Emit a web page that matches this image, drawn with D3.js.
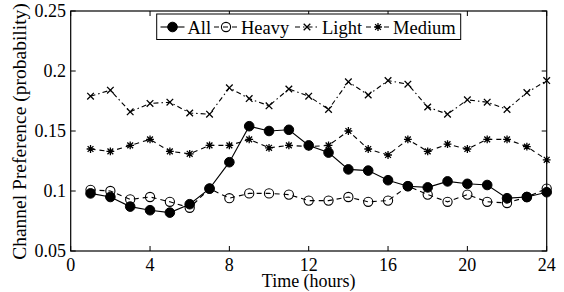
<!DOCTYPE html>
<html>
<head>
<script src="https://d3js.org/d3.v7.min.js"></script>
<style>
  body { margin: 0; background: #fff; }
  text { font-family: "Liberation Serif", "Times New Roman", serif; fill: #000; }
</style>
</head>
<body>
<svg id="chart" width="564" height="292"></svg>
<script>
// hours 1..24
var hours = d3.range(1, 25);
var xTicks = [0, 4, 8, 12, 16, 20, 24];
var yTicks = [0.05, 0.1, 0.15, 0.2, 0.25];
var yTickLabels = ["0.05", "0.1", "0.15", "0.2", "0.25"];

var allPref = [0.098, 0.095, 0.087, 0.084, 0.082, 0.089, 0.102, 0.124, 0.154, 0.150, 0.151, 0.138,
               0.132, 0.118, 0.117, 0.109, 0.104, 0.103, 0.108, 0.106, 0.105, 0.094, 0.095, 0.099];
var heavyPref = [0.101, 0.100, 0.093, 0.095, 0.091, 0.086, 0.102, 0.094, 0.098, 0.098, 0.097, 0.092,
                 0.092, 0.095, 0.091, 0.092, 0.104, 0.097, 0.091, 0.097, 0.091, 0.090, 0.095, 0.102];
var lightPref = [0.179, 0.184, 0.166, 0.173, 0.174, 0.165, 0.164, 0.186, 0.177, 0.171, 0.185, 0.179,
                 0.168, 0.191, 0.180, 0.192, 0.189, 0.170, 0.164, 0.176, 0.174, 0.168, 0.182, 0.192];
var mediumPref = [0.135, 0.133, 0.138, 0.143, 0.133, 0.131, 0.138, 0.138, 0.143, 0.136, 0.138, 0.137,
                  0.138, 0.150, 0.135, 0.130, 0.143, 0.133, 0.139, 0.135, 0.143, 0.143, 0.137, 0.126];

var seriesNames = ["All", "Heavy", "Light", "Medium"];
var seriesValues = [allPref, heavyPref, lightPref, mediumPref];

var svg = d3.select("#chart");
var plotLeft = 70.7, plotRight = 546.7, plotTop = 11, plotBottom = 251;

var x = d3.scaleLinear().domain([0, 24]).range([plotLeft, plotRight]);
var y = d3.scaleLinear().domain([0.05, 0.25]).range([plotBottom, plotTop]);

// line styles per series
var styles = {
  All:    { dash: null,        marker: "dot" },
  Heavy:  { dash: "5,4",       marker: "circle" },
  Light:  { dash: "5,3,1.5,3", marker: "x" },
  Medium: { dash: "5,4",       marker: "star" }
};

function drawMarker(g, kind, cx, cy) {
  if (kind === "dot") {
    g.append("circle").attr("cx", cx).attr("cy", cy).attr("r", 4.8)
      .attr("fill", "#000").attr("stroke", "#000");
  } else if (kind === "circle") {
    g.append("circle").attr("cx", cx).attr("cy", cy).attr("r", 4.6)
      .attr("fill", "none").attr("stroke", "#000").attr("stroke-width", 1.1);
  } else if (kind === "x") {
    var s = 3.3;
    g.append("path")
      .attr("d", "M" + (cx - s) + "," + (cy - s) + "L" + (cx + s) + "," + (cy + s) +
                 "M" + (cx - s) + "," + (cy + s) + "L" + (cx + s) + "," + (cy - s))
      .attr("stroke", "#000").attr("stroke-width", 1.3);
  } else if (kind === "star") {
    var r = 3.9, d = 2.9;
    g.append("path")
      .attr("d", "M" + (cx - r) + "," + cy + "L" + (cx + r) + "," + cy +
                 "M" + cx + "," + (cy - r) + "L" + cx + "," + (cy + r) +
                 "M" + (cx - d) + "," + (cy - d) + "L" + (cx + d) + "," + (cy + d) +
                 "M" + (cx - d) + "," + (cy + d) + "L" + (cx + d) + "," + (cy - d))
      .attr("stroke", "#000").attr("stroke-width", 1.3);
  }
}

// axes box
svg.append("rect").attr("x", plotLeft).attr("y", plotTop)
  .attr("width", plotRight - plotLeft).attr("height", plotBottom - plotTop)
  .attr("fill", "none").attr("stroke", "#000").attr("stroke-width", 1.2);

var tickLen = 5;
var axes = svg.append("g").attr("stroke", "#000").attr("stroke-width", 1);
xTicks.forEach(function(t) {
  axes.append("line").attr("x1", x(t)).attr("x2", x(t)).attr("y1", plotBottom).attr("y2", plotBottom - tickLen);
  axes.append("line").attr("x1", x(t)).attr("x2", x(t)).attr("y1", plotTop).attr("y2", plotTop + tickLen);
});
yTicks.forEach(function(t) {
  axes.append("line").attr("x1", plotLeft).attr("x2", plotLeft + tickLen).attr("y1", y(t)).attr("y2", y(t));
  axes.append("line").attr("x1", plotRight).attr("x2", plotRight - tickLen).attr("y1", y(t)).attr("y2", y(t));
});

svg.selectAll(".xlab").data(xTicks).enter().append("text")
  .attr("x", function(d) { return x(d); }).attr("y", 271)
  .attr("text-anchor", "middle").style("font-size", "18px")
  .text(function(d) { return d; });

svg.selectAll(".ylab").data(yTicks).enter().append("text")
  .attr("x", 66).attr("y", function(d) { return y(d) + 6; })
  .attr("text-anchor", "end").style("font-size", "18px")
  .text(function(d, i) { return yTickLabels[i]; });

svg.append("text").attr("x", (plotLeft + plotRight) / 2).attr("y", 286.5)
  .attr("text-anchor", "middle").style("font-size", "18px").text("Time (hours)");

svg.append("text").attr("transform", "translate(25.5,131.5) rotate(-90)")
  .attr("text-anchor", "middle").style("font-size", "19.5px").text("Channel Preference (probability)");

// series
var line = d3.line().x(function(d, i) { return x(hours[i]); }).y(function(d) { return y(d); });
seriesNames.forEach(function(name, k) {
  var vals = seriesValues[k];
  var st = styles[name];
  var g = svg.append("g");
  g.append("path").attr("d", line(vals)).attr("fill", "none")
    .attr("stroke", "#000").attr("stroke-width", 1.1)
    .attr("stroke-dasharray", st.dash);
  vals.forEach(function(v, i) { drawMarker(g, st.marker, x(hours[i]), y(v)); });
});

// legend
var leg = svg.append("g");
leg.append("rect").attr("x", 156.7).attr("y", 14).attr("width", 304).attr("height", 25.5)
  .attr("fill", "#fff").attr("stroke", "#000").attr("stroke-width", 1);
var legTextX = [187.5, 241, 322, 393];
seriesNames.forEach(function(name, k) {
  var st = styles[name];
  var tx = legTextX[k], cy = 27;
  leg.append("line").attr("x1", tx - 27).attr("x2", tx - 3).attr("y1", cy).attr("y2", cy)
    .attr("stroke", "#000").attr("stroke-width", 1.1).attr("stroke-dasharray", st.dash);
  drawMarker(leg, st.marker, tx - 15, cy);
  leg.append("text").attr("x", tx).attr("y", 34).style("font-size", "18.5px").text(name);
});
</script>
</body>
</html>
